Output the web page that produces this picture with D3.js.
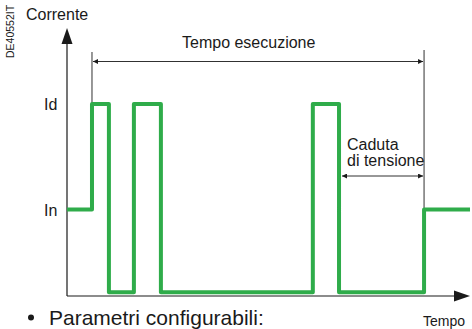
<!DOCTYPE html>
<html>
<head>
<meta charset="utf-8">
<script src="https://cdn.jsdelivr.net/npm/d3@7"></script>
<style>
  body { margin: 0; background: #fff; }
  text { font-family: "Liberation Sans", Arial, Helvetica, sans-serif; fill: #1a1a1a; }
</style>
</head>
<body>
<div class="container"></div>
<script>
// current levels (relative units)
const levelNames = ["Id", "In"];
const levelValues = [100, 45];

// time of each step of the trace, and current after that step
const stepTimes = [0, 6.2, 10.4, 16.6, 23.3, 61.0, 67.5, 88.6, 100];
const stepCurrent = [45, 100, 2, 100, 2, 100, 2, 45, 45];

// markers
const execStart = 6.2, execEnd = 88.6;
const dropStart = 67.5, dropEnd = 88.6;

const width = 472, height = 329;
const green = "#2fac4a";

let svg = d3.select(".container").append("svg")
  .attr("width", width)
  .attr("height", height);

let x = d3.scaleLinear().domain([0, 100]).range([67, 470]);
let y = d3.scaleLinear().domain([0, 100]).range([296, 104]);

let defs = svg.append("defs");
defs.append("marker")
  .attr("id", "arr")
  .attr("viewBox", "0 0 10 10")
  .attr("refX", 10).attr("refY", 5)
  .attr("markerWidth", 9).attr("markerHeight", 5)
  .attr("markerUnits", "userSpaceOnUse")
  .attr("orient", "auto-start-reverse")
  .append("path")
  .attr("d", "M0,0L10,5L0,10Z")
  .attr("fill", "#1a1a1a");

// axes
svg.append("line")
  .attr("x1", x(0)).attr("y1", y(0))
  .attr("x2", x(0)).attr("y2", 42)
  .attr("stroke", "#1a1a1a").attr("stroke-width", 1.2);
svg.append("path")
  .attr("d", `M${x(0)},28L${x(0)-5.5},44L${x(0)+5.5},44Z`)
  .attr("fill", "#1a1a1a");
svg.append("line")
  .attr("x1", x(0)).attr("y1", y(0))
  .attr("x2", x(100) - 14).attr("y2", y(0))
  .attr("stroke", "#1a1a1a").attr("stroke-width", 1.2);
svg.append("path")
  .attr("d", `M${x(100)},${y(0)}L${x(100)-16},${y(0)-5.5}L${x(100)-16},${y(0)+5.5}Z`)
  .attr("fill", "#1a1a1a");

// level labels
svg.selectAll("text.level")
  .data(levelNames)
  .enter()
  .append("text")
  .attr("class", "level")
  .attr("x", 44)
  .attr("y", (d, i) => y(levelValues[i]) + 6)
  .attr("font-size", 16)
  .text(d => d);

// execution time marker
svg.append("line")
  .attr("x1", x(execStart)).attr("y1", 52)
  .attr("x2", x(execStart)).attr("y2", y(100))
  .attr("stroke", "#1a1a1a").attr("stroke-width", 0.9);
svg.append("line")
  .attr("x1", x(execEnd)).attr("y1", 50)
  .attr("x2", x(execEnd)).attr("y2", y(45))
  .attr("stroke", "#1a1a1a").attr("stroke-width", 0.9);
svg.append("line")
  .attr("x1", x(execStart) + 1).attr("y1", 61.5)
  .attr("x2", x(execEnd) - 1).attr("y2", 61.5)
  .attr("stroke", "#1a1a1a").attr("stroke-width", 0.9)
  .attr("marker-start", "url(#arr)")
  .attr("marker-end", "url(#arr)");
svg.append("text")
  .attr("x", 182)
  .attr("y", 48)
  .attr("font-size", 16)
  .text("Tempo esecuzione");

// voltage drop marker
svg.append("line")
  .attr("x1", x(dropStart) + 3).attr("y1", 176)
  .attr("x2", x(dropEnd) - 1).attr("y2", 176)
  .attr("stroke", "#1a1a1a").attr("stroke-width", 0.9)
  .attr("marker-start", "url(#arr)")
  .attr("marker-end", "url(#arr)");
svg.append("text")
  .attr("x", 347).attr("y", 150)
  .attr("font-size", 16)
  .text("Caduta");
svg.append("text")
  .attr("x", 347).attr("y", 166)
  .attr("font-size", 16)
  .text("di tensione");

// current trace
const line = d3.line()
  .x(d => x(d[0]))
  .y(d => y(d[1]))
  .curve(d3.curveStepAfter);
svg.append("path")
  .datum(stepTimes.map((t, i) => [t, stepCurrent[i]]))
  .attr("d", line)
  .attr("fill", "none")
  .attr("stroke", green)
  .attr("stroke-width", 4)
  .attr("stroke-linejoin", "round");

// titles
svg.append("text")
  .attr("x", 26).attr("y", 19.5)
  .attr("font-size", 16)
  .text("Corrente");
svg.append("text")
  .attr("transform", "translate(14,58) rotate(-90)")
  .attr("font-size", 10.5)
  .text("DE40552IT");
svg.append("text")
  .attr("x", 423).attr("y", 325.5)
  .attr("font-size", 14)
  .text("Tempo");
svg.append("circle")
  .attr("cx", 31).attr("cy", 317.5).attr("r", 3)
  .attr("fill", "#1a1a1a");
svg.append("text")
  .attr("x", 49).attr("y", 325)
  .attr("font-size", 21)
  .text("Parametri configurabili:");
</script>
</body>
</html>
